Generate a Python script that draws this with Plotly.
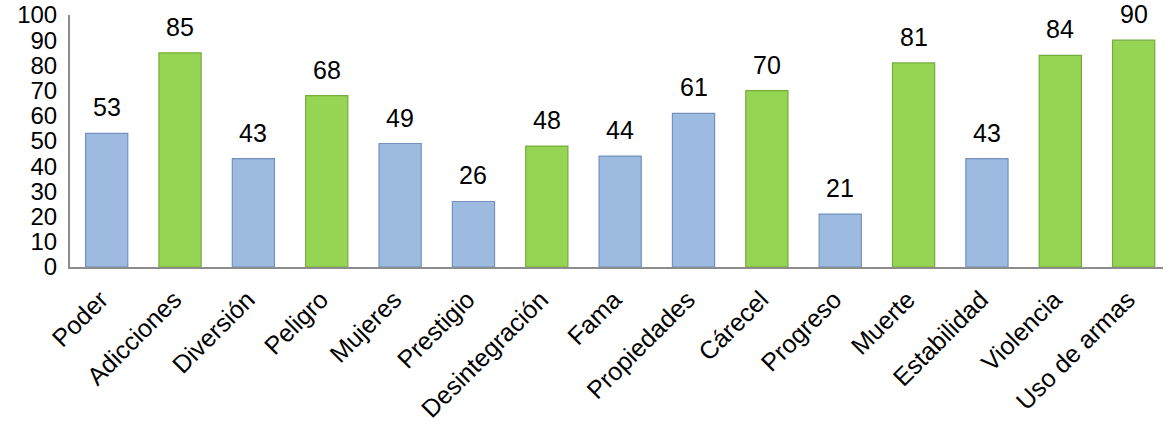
import plotly.graph_objects as go

categories = ["Poder", "Adicciones", "Diversión", "Peligro", "Mujeres", "Prestigio",
              "Desintegración", "Fama", "Propiedades", "Cárecel", "Progreso", "Muerte",
              "Estabilidad", "Violencia", "Uso de armas"]
values = [53, 85, 43, 68, 49, 26, 48, 44, 61, 70, 21, 81, 43, 84, 90]
groups = ["b", "g", "b", "g", "b", "b", "g", "b", "b", "g", "b", "g", "b", "g", "g"]
y_ticks = [0, 10, 20, 30, 40, 50, 60, 70, 80, 90, 100]

fill = {"b": "#9DBBE0", "g": "#96D553"}
edge = {"b": "#7391BC", "g": "#74AD3C"}
FONT = "Liberation Sans, Arial"

pos = list(range(len(categories)))

fig = go.Figure()
fig.add_trace(go.Bar(
    x=pos, y=values,
    marker=dict(color=[fill[g] for g in groups],
                line=dict(color=[edge[g] for g in groups], width=1.2)),
    width=0.575,
    customdata=categories,
    hovertemplate="%{customdata}: %{y}<extra></extra>",
))

for i, v in zip(pos, values):
    fig.add_annotation(x=i, y=v, text=str(v), showarrow=False, yanchor="bottom",
                       yshift=10, font=dict(family=FONT, size=25, color="#000"))

fig.update_layout(
    width=1167, height=425,
    margin=dict(l=70, r=4, t=15, b=158),
    plot_bgcolor="white", paper_bgcolor="white",
    showlegend=False,
    font=dict(family=FONT, size=25, color="#000"),
)
# rotated labels end slightly left of the bar centre in the reference
fig.update_xaxes(range=[-0.5, 14.4], tickvals=[p - 0.08 for p in pos],
                 ticktext=categories,
                 showline=True, linecolor="#8C8C8C", linewidth=2, tickangle=-45,
                 ticks="", showgrid=False, zeroline=False, tickfont=dict(size=25),
                 automargin=False, ticklabelstandoff=6)
fig.update_yaxes(range=[0, 100], tickvals=y_ticks, showline=True, linecolor="#8C8C8C",
                 linewidth=2, showgrid=False, ticks="", zeroline=False, automargin=False,
                 tickfont=dict(size=24), ticklabelstandoff=6)

fig.write_html("out.html", config={"displayModeBar": False},
               post_script="document.body.style.margin='0';")
